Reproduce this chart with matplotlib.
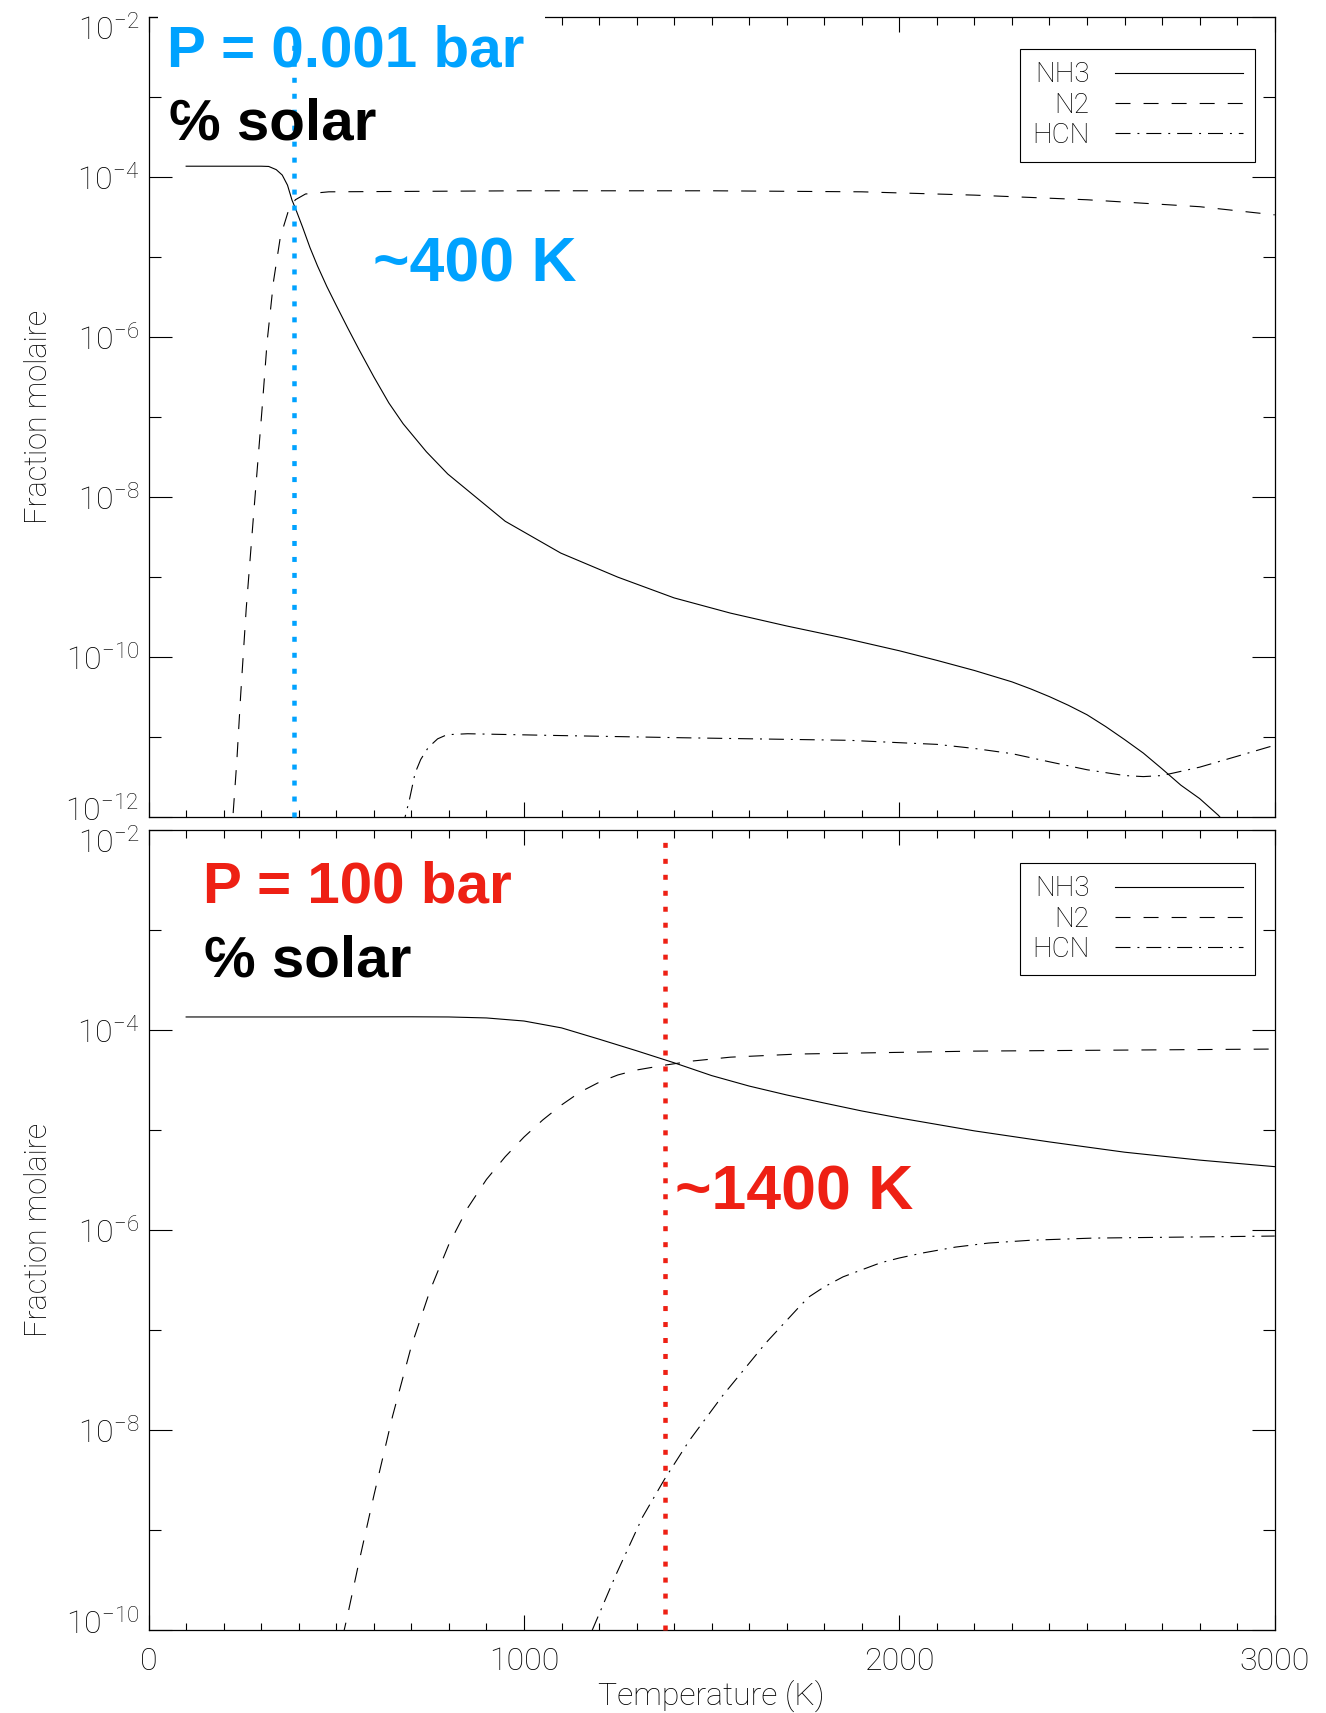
import matplotlib
matplotlib.use("Agg")
import matplotlib.pyplot as plt
from matplotlib.patches import Rectangle
from matplotlib.ticker import FixedLocator, MultipleLocator, NullFormatter
from matplotlib.transforms import ScaledTranslation

plt.rcParams['font.family'] = ['Roboto', 'DejaVu Sans']
plt.rcParams['font.weight'] = 'light'
plt.rcParams['axes.labelweight'] = 'light'
plt.rcParams['mathtext.fontset'] = 'custom'
plt.rcParams['mathtext.rm'] = 'Roboto:light'
plt.rcParams['mathtext.it'] = 'Roboto:light'
plt.rcParams['mathtext.bf'] = 'Roboto:light'
plt.rcParams['mathtext.sf'] = 'Roboto:light'
plt.rcParams['mathtext.default'] = 'rm'
plt.rcParams['lines.scale_dashes'] = False

# species shown in the legend
species = ['NH3', 'N2', 'HCN']

# P = 0.001 bar (top panel)
t_nh3_low = [100, 300, 320, 340, 356, 370, 382, 392, 410, 430, 450, 475, 500, 530,
             560, 600, 640, 678, 740, 797, 950, 1098, 1250, 1400, 1550, 1700, 1850,
             2000, 2100, 2200, 2300, 2350, 2400, 2450, 2500, 2550, 2600, 2650, 2700,
             2750, 2800, 2850, 2950]
nh3_low = [1.38e-4, 1.38e-4, 1.37e-4, 1.25e-4, 1.07e-4, 8.0e-5, 5.2e-5, 4.0e-5,
           2.4e-5, 1.32e-5, 7.8e-6, 4.3e-6, 2.5e-6, 1.32e-6, 7.1e-7, 3.2e-7, 1.51e-7,
           8.3e-8, 3.7e-8, 1.95e-8, 5.0e-9, 2.0e-9, 1.0e-9, 5.5e-10, 3.55e-10,
           2.45e-10, 1.74e-10, 1.2e-10, 9.1e-11, 6.8e-11, 4.9e-11, 4.0e-11, 3.2e-11,
           2.5e-11, 1.9e-11, 1.35e-11, 9.3e-12, 6.3e-12, 4.0e-12, 2.5e-12, 1.7e-12,
           1.05e-12, 3.0e-13]

t_n2_low = [220, 235, 245, 260, 280, 302, 316, 333, 351, 373, 391, 418, 480, 1000,
            1500, 1900, 2200, 2500, 2800, 3000]
n2_low = [5e-13, 5e-12, 3.2e-11, 4e-10, 6.3e-9, 1.23e-7, 9.1e-7, 5.1e-6, 1.8e-5,
          3.9e-5, 5.25e-5, 6.2e-5, 6.6e-5, 6.8e-5, 6.8e-5, 6.6e-5, 6.0e-5, 5.25e-5,
          4.3e-5, 3.4e-5]

t_hcn_low = [675, 695, 710, 725, 745, 770, 795, 850, 1067, 1422, 1867, 2000, 2100,
             2200, 2300, 2400, 2500, 2600, 2650, 2700, 2800, 2900, 3000]
hcn_low = [7e-13, 1.66e-12, 3.55e-12, 5.25e-12, 7.4e-12, 9.5e-12, 1.07e-11, 1.1e-11,
           1.05e-11, 9.8e-12, 9.1e-12, 8.5e-12, 8.1e-12, 7.2e-12, 6.2e-12, 4.9e-12,
           3.9e-12, 3.3e-12, 3.2e-12, 3.3e-12, 4.2e-12, 5.75e-12, 7.9e-12]

# P = 100 bar (bottom panel)
t_nh3_high = [100, 400, 700, 800, 900, 1000, 1100, 1200, 1300, 1400, 1500, 1600,
              1700, 1800, 1900, 2000, 2200, 2400, 2600, 2800, 3000]
nh3_high = [1.35e-4, 1.35e-4, 1.355e-4, 1.35e-4, 1.32e-4, 1.23e-4, 1.05e-4, 8.1e-5,
            6.2e-5, 4.7e-5, 3.5e-5, 2.75e-5, 2.24e-5, 1.86e-5, 1.55e-5, 1.32e-5,
            9.8e-6, 7.6e-6, 6.0e-6, 5.0e-6, 4.3e-6]

t_n2_high = [500, 530, 560, 600, 650, 700, 750, 800, 850, 900, 950, 1000, 1050, 1100,
             1150, 1200, 1250, 1300, 1375, 1450, 1550, 1730, 2200, 3000]
n2_high = [4.5e-11, 1.4e-10, 4.7e-10, 2.2e-9, 1.38e-8, 6.9e-8, 2.5e-7, 7.2e-7,
           1.66e-6, 3.2e-6, 5.4e-6, 8.5e-6, 1.26e-5, 1.78e-5, 2.4e-5, 3.0e-5,
           3.55e-5, 3.98e-5, 4.45e-5, 4.9e-5, 5.35e-5, 5.75e-5, 6.15e-5, 6.45e-5]

t_hcn_high = [1160, 1182, 1244, 1316, 1374, 1440, 1529, 1644, 1733, 1759, 1800, 1850,
              1900, 1950, 2000, 2063, 2150, 2237, 2350, 2516, 3000]
hcn_high = [5e-11, 1e-10, 3.5e-10, 1.35e-9, 3.2e-9, 7.8e-9, 2.2e-8, 7.4e-8, 1.7e-7,
            2.14e-7, 2.7e-7, 3.4e-7, 4.0e-7, 4.7e-7, 5.25e-7, 5.9e-7, 6.75e-7,
            7.4e-7, 7.9e-7, 8.3e-7, 8.7e-7]

# NH3 / N2 crossover temperatures
cross_low_T = 387
cross_high_T = 1375

blue = '#00A2FF'
red = '#EE2014'
styles = ['-', (0, (10.8, 9.4)), (0, (10.8, 5.0, 1.4, 5.0))]
big_font = ['Liberation Sans', 'DejaVu Sans']

fig = plt.figure(figsize=(13.26, 17.13), dpi=100)
ax1 = fig.add_axes([0.11207, 0.52306, 0.84925, 0.46673])
ax2 = fig.add_axes([0.11207, 0.04845, 0.84925, 0.46702])


def style_axis(ax, ymin_exp):
    ax.set_yscale('log')
    ax.set_xlim(0, 3000)
    ax.set_ylim(10.0 ** ymin_exp, 1e-2)
    major = [10.0 ** e for e in range(ymin_exp, -1, 2)]
    minor = [10.0 ** e for e in range(ymin_exp + 1, -2, 2)]
    ax.set_yticks(major, [r'$10^{%d}$' % e for e in range(ymin_exp, -1, 2)])
    ax.yaxis.set_minor_locator(FixedLocator(minor))
    ax.yaxis.set_minor_formatter(NullFormatter())
    ax.set_xticks([0, 1000, 2000, 3000], ['0', '1000', '2000', '3000'])
    ax.xaxis.set_minor_locator(MultipleLocator(100))
    ax.tick_params(which='both', direction='in', top=True, right=True, width=0.8)
    ax.tick_params(axis='y', which='major', length=16.5, pad=7.0, labelsize=23)
    ax.tick_params(axis='y', which='minor', length=8.3)
    ax.tick_params(axis='x', which='major', length=10.8, pad=12.5, labelsize=23)
    ax.tick_params(axis='x', which='minor', length=5.4)
    for sp in ax.spines.values():
        sp.set_linewidth(0.9)
    ticks = ax.yaxis.get_major_ticks()
    ticks[0].label1.set_transform(ticks[0].label1.get_transform()
                                  + ScaledTranslation(0, 0.09, fig.dpi_scale_trans))
    ticks[-1].label1.set_transform(ticks[-1].label1.get_transform()
                                   + ScaledTranslation(0, -0.10, fig.dpi_scale_trans))
    ax.set_ylabel('Fraction molaire', fontsize=22)
    ax.yaxis.set_label_coords(-0.0853, 0.5)


def draw_panel(ax, data, ymin_exp, legend_y):
    style_axis(ax, ymin_exp)
    for (t, y), name, ls in zip(data, species, styles):
        ax.plot(t, y, color='black', lw=0.8, linestyle=ls, label=name, zorder=2)
    leg = ax.legend(loc='upper right', bbox_to_anchor=(0.9825, legend_y),
                    markerfirst=False, handlelength=4.6, handletextpad=0.9,
                    borderpad=0.45, labelspacing=0.12, fontsize=20, frameon=True,
                    fancybox=False, framealpha=1, edgecolor='black', borderaxespad=0)
    leg.get_frame().set_linewidth(0.8)


draw_panel(ax1, [(t_nh3_low, nh3_low), (t_n2_low, n2_low), (t_hcn_low, hcn_low)], -12, 0.9606)
draw_panel(ax2, [(t_nh3_high, nh3_high), (t_n2_high, n2_high), (t_hcn_high, hcn_high)], -10, 0.959)
ax1.tick_params(axis='x', labelbottom=False)
ax2.set_xlabel('Temperature (K)', fontsize=23)
ax2.xaxis.set_label_coords(0.5, -0.062)

# white background of the pasted title hides part of the top frame
ax1.add_patch(Rectangle((0.0083, 0.922), 0.344, 0.1, transform=ax1.transAxes,
                        facecolor='white', edgecolor='none', clip_on=False, zorder=3))

# crossover markers
ax1.plot([cross_low_T, cross_low_T], [1e-12, 10 ** -2.35], color=blue, lw=3.24,
         linestyle=(0, (3.6, 7.9)), dash_capstyle='butt', zorder=6, clip_on=False)
ax2.plot([cross_high_T, cross_high_T], [1e-10, 10 ** -2.08], color=red, lw=3.24,
         linestyle=(0, (3.6, 7.9)), dash_capstyle='butt', zorder=6, clip_on=False)

# annotations
fig.text(0.1263, 0.9611, 'P = 0.001 bar', color=blue, fontsize=42, fontweight='bold',
         family=big_font, va='baseline', zorder=5)
fig.text(0.1278, 0.9183, '\u2105 solar', color='black', fontsize=42, fontweight='bold',
         family=big_font, va='baseline', zorder=5)
fig.text(0.2813, 0.8356, '~400 K', color=blue, fontsize=45, fontweight='bold',
         family=big_font, va='baseline', zorder=5)
fig.text(0.1529, 0.4729, 'P = 100 bar', color=red, fontsize=42, fontweight='bold',
         family=big_font, va='baseline', zorder=5)
fig.text(0.1538, 0.4302, '\u2105 solar', color='black', fontsize=42, fontweight='bold',
         family=big_font, va='baseline', zorder=5)
fig.text(0.5088, 0.2942, '~1400 K', color=red, fontsize=45, fontweight='bold',
         family=big_font, va='baseline', zorder=5)

fig.savefig('out.png', dpi=100)
